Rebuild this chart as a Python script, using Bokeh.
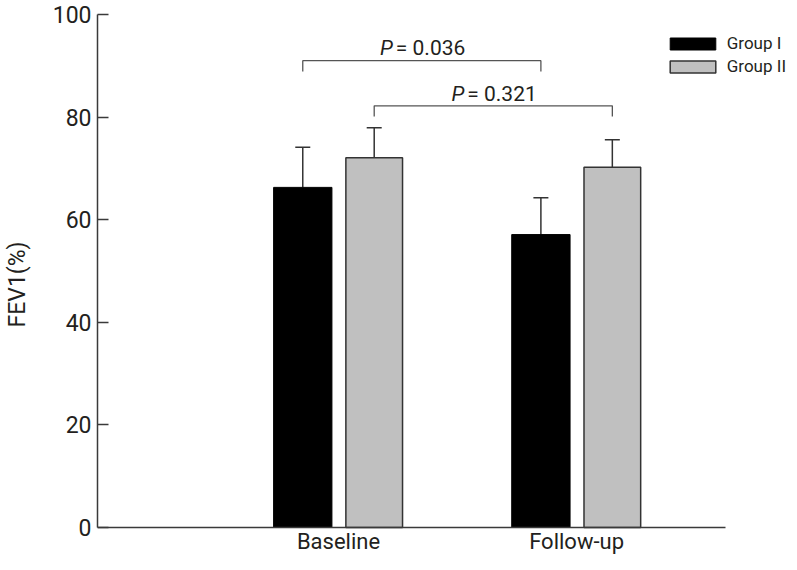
from bokeh.plotting import figure
from bokeh.models import (Range1d, FixedTicker, ColumnDataSource, Whisker, TeeHead,
                          Legend, LegendItem)
from bokeh.core.properties import value
from bokeh.embed import file_html
from bokeh.resources import INLINE

# ---- data ----
categories = ["Baseline", "Follow-up"]
group_names = ["Group I", "Group II"]
group1_mean = [66.3, 57.1]
group1_err = [7.8, 7.2]
group2_mean = [72.1, 70.2]
group2_err = [5.8, 5.4]
y_ticks = [0, 20, 40, 60, 80, 100]
p_labels = ["0.036", "0.321"]

# ---- layout constants ----
FONT = "Roboto"
TXT = "#231f20"
AX = "#3a3a3a"
offset = 0.15
bracket_levels = [91.0, 82.2]
bracket_drop = 2.1
text_gap = 2.4
x0 = -0.012

xs = [i + 1 for i in range(len(categories))]
x1 = [x - offset for x in xs]
x2 = [x + offset for x in xs]

p = figure(width=789, height=554, output_backend="svg", toolbar_location=None,
           x_range=Range1d(x0, 2.894), y_range=Range1d(-5.263, 100),
           min_border_left=93, min_border_right=0, min_border_top=14, min_border_bottom=0)
p.outline_line_color = None
p.xgrid.grid_line_color = None
p.ygrid.grid_line_color = None
p.background_fill_color = "white"

# axes
p.yaxis.bounds = (0, 100)
p.yaxis.ticker = FixedTicker(ticks=y_ticks)
p.yaxis.minor_tick_line_color = None
p.yaxis.major_tick_in = 11
p.yaxis.major_tick_out = 0
p.yaxis.major_tick_line_color = AX
p.yaxis.major_tick_line_width = 1.5
p.yaxis.axis_line_color = AX
p.yaxis.axis_line_width = 1.5
p.yaxis.major_label_text_font = FONT
p.yaxis.major_label_text_font_size = "23px"
p.yaxis.major_label_text_color = TXT
p.yaxis.major_label_standoff = 6
p.yaxis.axis_label = "FEV1(%)"
p.yaxis.axis_label_text_font = FONT
p.yaxis.axis_label_text_font_size = "23px"
p.yaxis.axis_label_text_font_style = "normal"
p.yaxis.axis_label_text_color = TXT
p.yaxis.axis_label_standoff = 19

p.xaxis.fixed_location = 0
p.xaxis.bounds = (x0, 2.627)
p.xaxis.ticker = FixedTicker(ticks=xs)
p.xaxis.major_label_overrides = {x: c for x, c in zip(xs, categories)}
p.xaxis.minor_tick_line_color = None
p.xaxis.major_tick_line_color = None
p.xaxis.major_tick_in = 0
p.xaxis.major_tick_out = 0
p.xaxis.axis_line_color = AX
p.xaxis.axis_line_width = 1.5
p.xaxis.major_label_text_font = FONT
p.xaxis.major_label_text_font_size = "22px"
p.xaxis.major_label_text_color = TXT
p.xaxis.major_label_standoff = 1

# bars
r1 = p.vbar(x=x1, top=group1_mean, width=0.245, fill_color="black",
            line_color="black", line_width=1)
r2 = p.vbar(x=x2, top=group2_mean, width=0.238, fill_color="#c0c0c0",
            line_color="#333333", line_width=1.5)

# error bars (upper only)
for xx, m, e in ((x1, group1_mean, group1_err), (x2, group2_mean, group2_err)):
    src = ColumnDataSource(dict(base=xx, lower=m, upper=[a + b for a, b in zip(m, e)]))
    w = Whisker(base="base", lower="lower", upper="upper", source=src,
                line_color="#333333", line_width=1.5, lower_head=None,
                upper_head=TeeHead(size=15, line_color="#333333", line_width=1.5))
    p.add_layout(w)

# significance brackets
bx = [(x1[0], x1[1]), (x2[0], x2[1])]
mxs, mys = [], []
for (a, b), h in zip(bx, bracket_levels):
    mxs.append([a, a, b, b])
    mys.append([h - bracket_drop, h, h, h - bracket_drop])
p.multi_line(xs=mxs, ys=mys, line_color="#555555", line_width=1.3)

mids = [(a + b) / 2 for a, b in bx]
ty = [h + text_gap for h in bracket_levels]
p.text(x=mids, y=ty, text=["P"] * len(mids), text_font=value(FONT),
       text_font_style="italic", text_font_size="21px", text_color=TXT,
       text_align="right", text_baseline="alphabetic", x_offset=-29)
p.text(x=mids, y=ty, text=["= " + s for s in p_labels], text_font=value(FONT),
       text_font_size="21px", text_color=TXT,
       text_align="left", text_baseline="alphabetic", x_offset=-26)

legend = Legend(items=[LegendItem(label=group_names[0], renderers=[r1]),
                       LegendItem(label=group_names[1], renderers=[r2])],
                location=(566.75, 477.5), glyph_width=57, glyph_height=15,
                label_standoff=6, spacing=2, padding=0, margin=0,
                label_height=21, border_line_color=None, background_fill_alpha=0,
                label_text_font=FONT, label_text_font_size="17px", label_text_color=TXT)
p.add_layout(legend)

open("out.html", "w").write(file_html(p, INLINE))
